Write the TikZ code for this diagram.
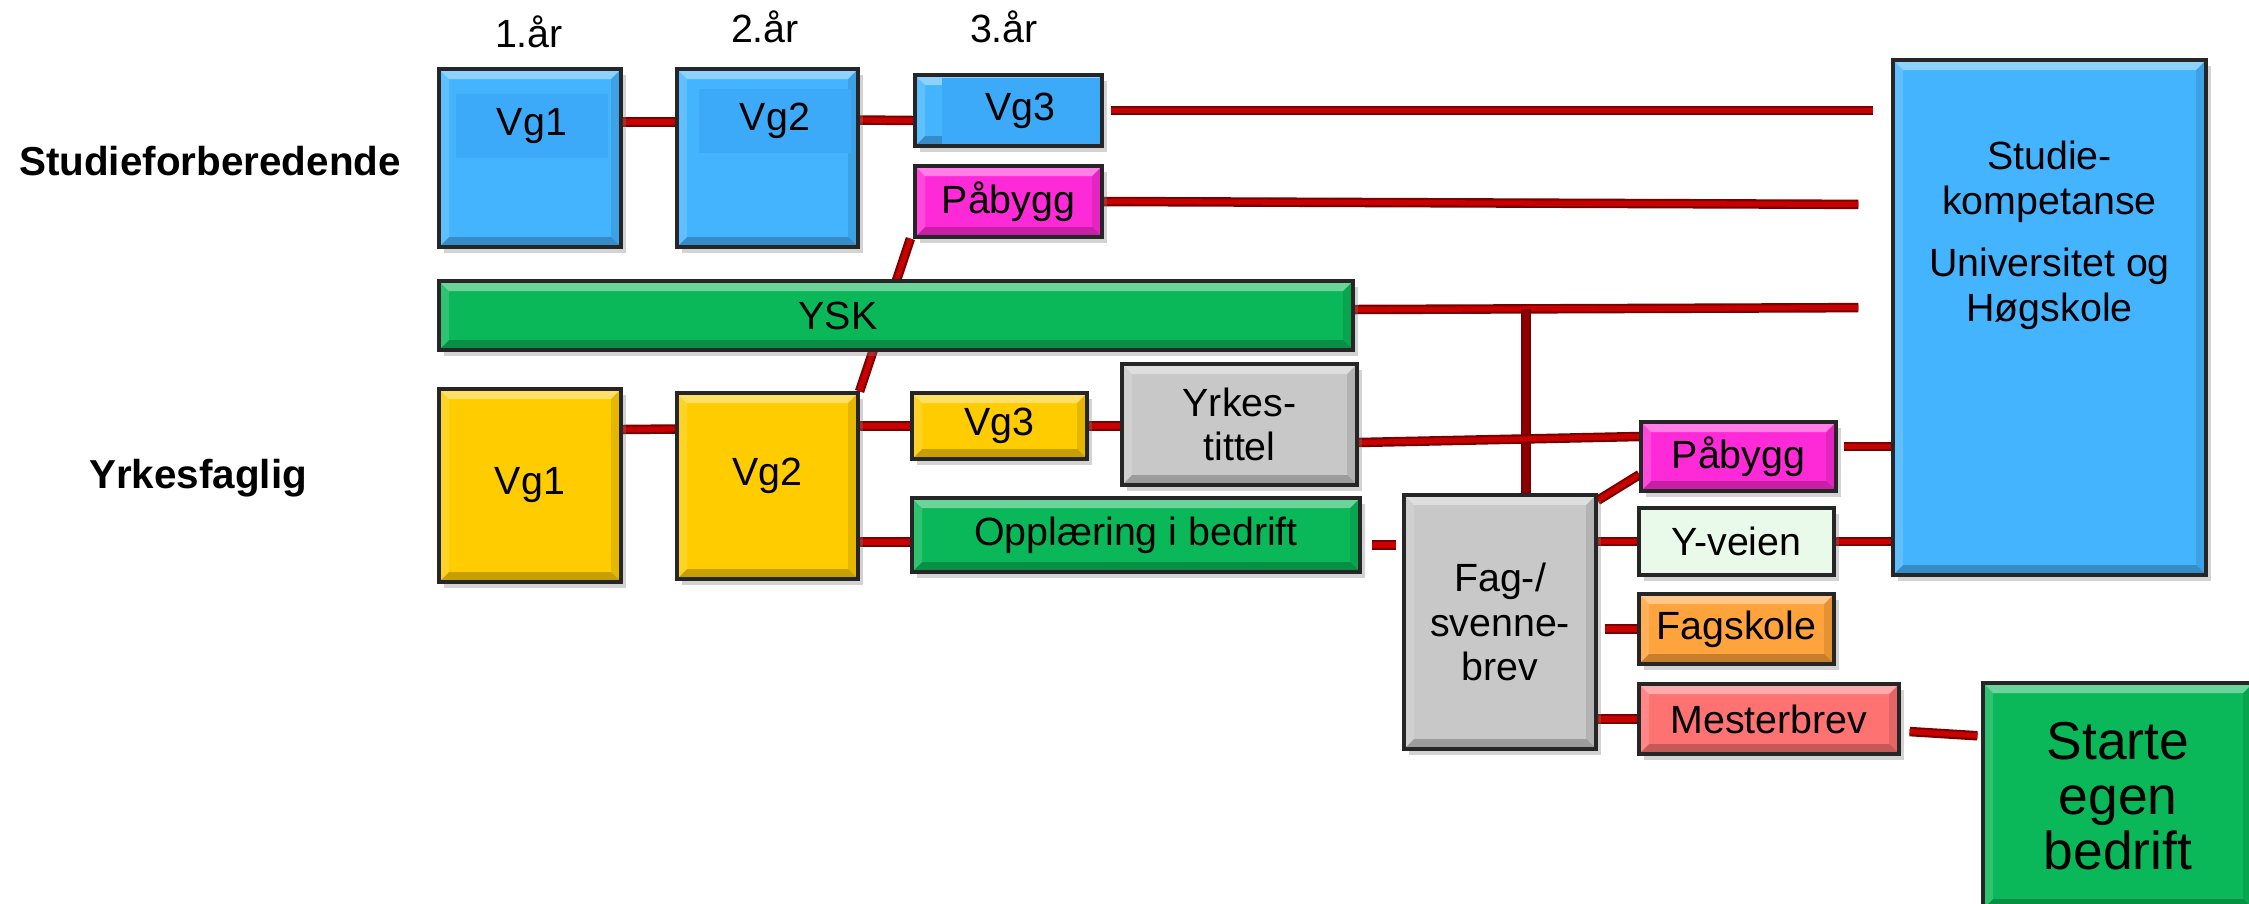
\documentclass[tikz,border=0pt]{standalone}
\usepackage{fontspec}
\setmainfont{Liberation Sans}
\usetikzlibrary{shadows,backgrounds}

\definecolor{skyblue}{HTML}{44B4FF}
\definecolor{skypatch}{HTML}{3DAAF9}
\definecolor{gold}{HTML}{FFCC00}
\definecolor{leaf}{HTML}{0AB859}
\definecolor{pink}{HTML}{FF2AD7}
\definecolor{silver}{HTML}{C8C8C8}
\definecolor{mint}{HTML}{EAFAEA}
\definecolor{amber}{HTML}{FFA33C}
\definecolor{salmon}{HTML}{FF7272}
\definecolor{linkred}{HTML}{C80000}
\definecolor{linkdark}{HTML}{780000}

\newcommand{\bvl}{.1cm}
\tikzstyle{flat}=[draw=black!85, line width=.9pt, inner sep=2pt, align=center,
  font=\fontsize{11.2}{12.6}\selectfont,
  drop shadow={opacity=.35, shadow xshift=.05cm, shadow yshift=-.06cm}]
\tikzstyle{tile}=[flat, path picture={
  \def\pb{path picture bounding box}
  \fill[white,opacity=.4] (\pb.north west) -- (\pb.north east) -- ([shift={(-\bvl,-\bvl)}]\pb.north east) -- ([shift={(\bvl,-\bvl)}]\pb.north west) -- cycle;
  \fill[black,opacity=.22] (\pb.south west) -- (\pb.south east) -- ([shift={(-\bvl,\bvl)}]\pb.south east) -- ([shift={(\bvl,\bvl)}]\pb.south west) -- cycle;
  \fill[black,opacity=.1] (\pb.north east) -- (\pb.south east) -- ([shift={(-\bvl,\bvl)}]\pb.south east) -- ([shift={(-\bvl,-\bvl)}]\pb.north east) -- cycle;
  \fill[white,opacity=.15] (\pb.north west) -- (\pb.south west) -- ([shift={(\bvl,\bvl)}]\pb.south west) -- ([shift={(\bvl,-\bvl)}]\pb.north west) -- cycle;
}]
\tikzstyle{patch}=[fill=skypatch, inner sep=0pt, font=\fontsize{11.2}{12.6}\selectfont]
\tikzstyle{link}=[linkdark, double=linkred, line width=.6pt, double distance=1.5pt]
\tikzstyle{trunk}=[linkdark, double=red!55!black, line width=.6pt, double distance=1.5pt]
\tikzstyle{head}=[font=\fontsize{11.5}{13}\selectfont\bfseries]
\tikzstyle{year}=[font=\fontsize{11.2}{13}\selectfont]

\begin{document}
\begin{tikzpicture}
    \useasboundingbox (0,0) rectangle (22.49,-9.03);

    % Headings
    \draw (2.10,-1.61) node[head] (sf) {Studieforberedende};
    \draw (1.98,-4.78) node[head] (yf) {Yrkesfaglig};
    \draw (5.29,-0.32) node[year] (y1) {1.år};
    \draw (7.65,-0.27) node[year] (y2) {2.år};
    \draw (10.04,-0.27) node[year] (y3) {3.år};

    % Studieforberedende
    \draw (5.30,-1.58) node[tile,fill=skyblue,minimum width=1.82cm,minimum height=1.78cm,
      label={[patch,minimum width=1.52cm,minimum height=.64cm,xshift=.02cm,yshift=.32cm]center:Vg1}] (sv1) {};
    \draw (7.675,-1.58) node[tile,fill=skyblue,minimum width=1.81cm,minimum height=1.78cm,
      label={[patch,minimum width=1.52cm,minimum height=.64cm,xshift=.075cm,yshift=.37cm]center:Vg2}] (sv2) {};
    \draw (10.085,-1.105) node[tile,fill=skyblue,minimum width=1.87cm,minimum height=.71cm,
      label={[patch,minimum width=1.58cm,minimum height=.66cm,xshift=.12cm]center:Vg3}] (sv3) {};
    \draw (10.085,-2.015) node[tile,fill=pink,minimum width=1.87cm,minimum height=.71cm] (pb1) {Påbygg};
    \draw (8.96,-3.155) node[tile,fill=leaf,minimum width=9.14cm,minimum height=.69cm,
      label={[font=\fontsize{11.2}{12.6}\selectfont,xshift=-.58cm]center:YSK}] (ysk) {};

    % Yrkesfaglig
    \draw (5.30,-4.855) node[tile,fill=gold,minimum width=1.82cm,minimum height=1.93cm] (yv1) {Vg1};
    \draw (7.675,-4.86) node[tile,fill=gold,minimum width=1.81cm,minimum height=1.86cm,
      label={[font=\fontsize{11.2}{12.6}\selectfont,yshift=.1cm]center:Vg2}] (yv2) {};
    \draw (9.995,-4.26) node[tile,fill=gold,minimum width=1.75cm,minimum height=.66cm] (yv3) {Vg3};
    \draw (12.395,-4.245) node[tile,fill=silver,minimum width=2.35cm,minimum height=1.21cm] (tit) {Yrkes-\\tittel};
    \draw (11.36,-5.35) node[tile,fill=leaf,minimum width=4.48cm,minimum height=.74cm] (opp) {Opplæring i bedrift};
    \draw (15.0,-6.22) node[tile,fill=silver,minimum width=1.92cm,minimum height=2.54cm] (fag) {Fag-/\\svenne-\\brev};

    % Videre
    \draw (17.385,-4.565) node[tile,fill=pink,minimum width=1.95cm,minimum height=.69cm] (pb2) {Påbygg};
    \draw (17.365,-5.415) node[flat,fill=mint,minimum width=1.95cm,minimum height=.67cm] (yvn) {Y-veien};
    \draw (17.365,-6.29) node[tile,fill=amber,minimum width=1.95cm,minimum height=.70cm] (fs) {Fagskole};
    \draw (17.69,-7.19) node[tile,fill=salmon,minimum width=2.60cm,minimum height=.70cm] (ms) {Mesterbrev};
    \draw (20.495,-3.175) node[tile,fill=skyblue,minimum width=3.13cm,minimum height=5.15cm,
      label={[align=center,font=\fontsize{11.2}{12.8}\selectfont,yshift=.82cm]center:Studie-\\kompetanse\\[5pt]Universitet og\\Høgskole}] (hk) {};
    \draw (21.18,-7.96) node[tile,fill=leaf,minimum width=2.70cm,minimum height=2.26cm,
      font=\fontsize{15.2}{15.6}\selectfont] (se) {Starte\\egen\\bedrift};

    % Connectors
    \begin{scope}[on background layer]
    \draw[link] ([yshift=.36cm]sv1.east) -- ([yshift=.36cm]sv2.west);
    \draw[link] ([yshift=.38cm]sv2.east) -- ([yshift=-.1cm]sv3.west);
    \draw[link,shorten <=.07cm,shorten >=.18cm] (sv3.east) -- (sv3.east -| hk.west);
    \draw[link,shorten >=.33cm] (pb1.east) -- ([yshift=-.03cm]pb1.east -| hk.west);
    \draw[link,shorten >=.33cm] ([yshift=.06cm]ysk.east) -- ([yshift=.08cm]ysk.east -| hk.west);
    \draw[trunk] ([xshift=.26cm]fag.north) -- ([xshift=.26cm,yshift=.07cm]fag.north |- ysk.east);
    \draw[link] ([xshift=-.03cm]pb1.south west) -- (yv2.north east);
    \draw[link] ([yshift=.56cm]yv1.east) -- ([yshift=.57cm]yv2.west);
    \draw[link] (yv2.east |- yv3.west) -- (yv3.west);
    \draw[link] (yv3.east) -- (yv3.east -| tit.west);
    \draw[link] ([yshift=-.18cm]tit.east) -- ([yshift=.2cm]pb2.west);
    \draw[link] ([yshift=-.07cm]yv2.east |- opp.west) -- ([yshift=-.07cm]opp.west);
    \draw[link,shorten <=.1cm,shorten >=.06cm] ([yshift=-.1cm]opp.east) -- ([yshift=-.1cm]opp.east -| fag.west);
    \draw[link] ([yshift=-.07cm]fag.north east) -- ([yshift=.18cm]pb2.south west);
    \draw[link] (fag.east |- yvn.west) -- (yvn.west);
    \draw[link,shorten <=.07cm] (fag.east |- fs.west) -- (fs.west);
    \draw[link] (fag.east |- ms.west) -- (ms.west);
    \draw[link,shorten <=.06cm] ([yshift=.1cm]pb2.east) -- ([yshift=.1cm]pb2.east -| hk.west);
    \draw[link] (yvn.east) -- (yvn.east -| hk.west);
    \draw[link,shorten <=.09cm,shorten >=.04cm] ([yshift=-.12cm]ms.east) -- ([yshift=-.17cm]ms.east -| se.west);
    \end{scope}

\end{tikzpicture}
\end{document}
